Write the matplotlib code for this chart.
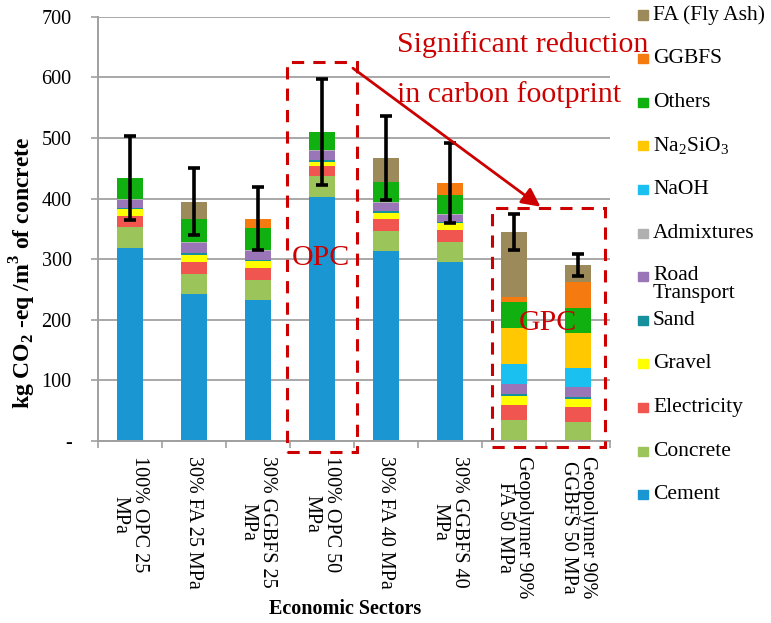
import matplotlib
matplotlib.use("Agg")
import matplotlib.pyplot as plt
from matplotlib.patches import Rectangle
import numpy as np

plt.rcParams['font.family'] = ['Liberation Serif', 'DejaVu Serif']
plt.rcParams['mathtext.fontset'] = 'custom'
plt.rcParams['mathtext.rm'] = 'Liberation Serif'
plt.rcParams['mathtext.bf'] = 'Liberation Serif:bold'

# mezclas de concreto (eje x)
mezclas = ["100% OPC 25\nMPa", "30% FA 25 MPa", "30% GGBFS 25\nMPa", "100% OPC 50\nMPa",
           "30% FA 40 MPa", "30% GGBFS 40\nMPa", "Geopolymer 90%\nFA 50 MPa",
           "Geopolymer 90%\nGGBFS 50 MPa"]

# emisiones por componente, kg CO2-eq / m3
cement      = [319, 242, 232, 403, 313, 296, 0, 0]
concrete    = [34, 33, 33, 34, 34, 33, 34, 32]
electricity = [19, 21, 20, 17, 19, 19, 26, 25]
gravel      = [11, 11, 12, 7, 11, 11, 15, 12]
sand        = [2, 3, 2, 2, 3, 3, 3, 4]
road        = [13, 16, 15, 15, 12, 11, 17, 16]
admixtures  = [2, 2, 2, 2, 2, 1, 0, 0]
naoh        = [0, 0, 0, 0, 0, 0, 32, 31]
na2sio3     = [0, 0, 0, 0, 0, 0, 59, 58]
others      = [34, 38, 35, 30, 34, 32, 44, 42]
ggbfs       = [0, 0, 16, 0, 0, 19, 7, 43]
fa          = [0, 29, 0, 0, 39, 0, 108, 28]
error       = [70, 55, 52, 87, 69, 66, 30, 18]

# orden de apilado (de abajo hacia arriba)
componentes = [
    ("Cement", cement, "#1a96d2"),
    ("Concrete", concrete, "#9bc45a"),
    ("Electricity", electricity, "#f0554f"),
    ("Gravel", gravel, "#ffff00"),
    ("Sand", sand, "#17909e"),
    ("Road\nTransport", road, "#9a75b8"),
    ("Admixtures", admixtures, "#b0b0b0"),
    ("NaOH", naoh, "#1ac0f0"),
    ("Na$_2$SiO$_3$", na2sio3, "#ffc800"),
    ("Others", others, "#10b010"),
    ("GGBFS", ggbfs, "#f57a0f"),
    ("FA (Fly Ash)", fa, "#9c8a5a"),
]

rojo = "#cc0000"

fig = plt.figure(figsize=(7.71, 6.23), dpi=100)
ax = fig.add_axes([0.127, 0.292, 0.664, 0.681])

x = np.arange(len(mezclas))
base = np.zeros(len(mezclas))
for nombre, valores, color in componentes:
    ax.bar(x, valores, width=0.4, bottom=base, color=color, zorder=2)
    base += np.array(valores)

ax.errorbar(x, base, yerr=error, fmt='none', ecolor='black', elinewidth=2.6,
            capsize=4, capthick=2.6, zorder=3)

ax.set_xlim(-0.5, 7.5)
ax.set_ylim(0, 700)
ax.set_yticks(range(0, 701, 100))
ax.set_yticklabels(['-'] + [str(v) for v in range(100, 701, 100)], fontsize=14.5)
ax.yaxis.grid(True, color='#a8a8a8', linewidth=1.4, zorder=0)
ax.set_axisbelow(True)

ax.set_xticks(np.arange(-0.5, 8, 1), minor=True)
ax.set_xticks(x)
ax.set_xticklabels(mezclas)
ax.tick_params(axis='x', length=0, pad=11)
for lbl in ax.get_xticklabels():
    lbl.set_rotation(270)
    lbl.set_fontsize(14.5)
    lbl.set_va('top')
    lbl.set_ha('center')
    lbl.set_multialignment('center')
    lbl.set_linespacing(1.05)
ax.tick_params(axis='x', which='minor', length=5, color='#a0a0a0', width=1.2)
ax.tick_params(axis='y', length=5, color='#a0a0a0', width=1.2, pad=14)

for s in ['top', 'right']:
    ax.spines[s].set_visible(False)
for s in ['left', 'bottom']:
    ax.spines[s].set_color('#a0a0a0')
    ax.spines[s].set_linewidth(1.4)

ax.set_ylabel(r'kg CO$_\mathbf{2}$ -eq /m$^\mathbf{3}$ of concrete', fontsize=17,
              fontweight='bold')
ax.yaxis.set_label_coords(-0.118, 0.396)
ax.set_xlabel('Economic Sectors', fontsize=14.5, fontweight='bold')
ax.xaxis.set_label_coords(0.482, -0.372)

# recuadros y anotaciones
ax.add_patch(Rectangle((2.45, -18), 1.1, 644, fill=False, edgecolor=rojo, linewidth=2.2,
                       linestyle=(0, (4, 3)), clip_on=False, zorder=4))
ax.add_patch(Rectangle((5.66, -10), 1.76, 395, fill=False, edgecolor=rojo, linewidth=2.2,
                       linestyle=(0, (4, 3)), clip_on=False, zorder=4))
ax.text(2.98, 302, 'OPC', color=rojo, fontsize=21.5, ha='center', va='center', zorder=5)
ax.text(6.53, 195, 'GPC', color=rojo, fontsize=21.5, ha='center', va='center', zorder=5)
ax.text(4.17, 655, 'Significant reduction', color=rojo, fontsize=21.5, ha='left',
        va='center', clip_on=False)
ax.text(4.17, 571, 'in carbon footprint', color=rojo, fontsize=21.5, ha='left',
        va='center', clip_on=False)
ax.annotate('', xy=(6.45, 384), xytext=(3.45, 618),
            arrowprops=dict(arrowstyle='-|>', color=rojo, lw=2, mutation_scale=28))

# leyenda a la derecha
y0, paso = 15, 43.6
for i, (nombre, valores, color) in enumerate(reversed(componentes)):
    py = y0 + i * paso
    fig.add_artist(Rectangle((638 / 771, 1 - (py + 4.5) / 623), 10 / 771, 9 / 623,
                             transform=fig.transFigure, color=color))
    if '\n' in nombre:
        fig.text(653 / 771, 1 - (py - 11) / 623, nombre, fontsize=15.5, ha='left', va='top',
                 linespacing=0.95, transform=fig.transFigure)
    else:
        fig.text(653 / 771, 1 - py / 623, nombre, fontsize=15.5, ha='left', va='center',
                 transform=fig.transFigure)

fig.savefig('out.png', dpi=100)
